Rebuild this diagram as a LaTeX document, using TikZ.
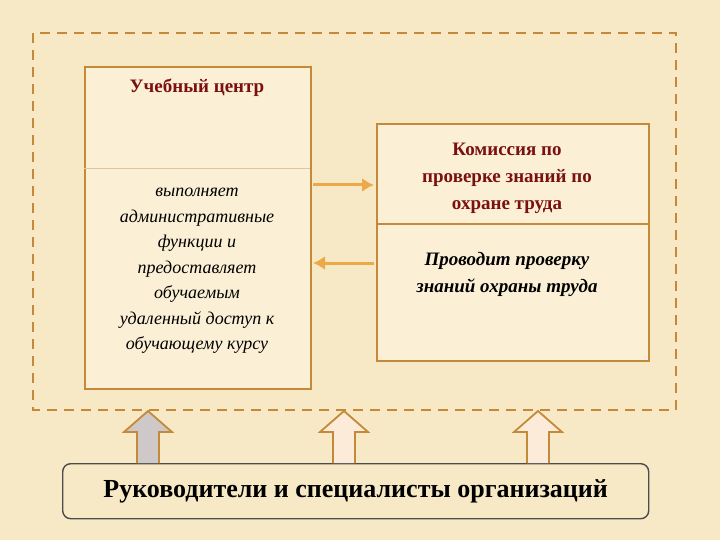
\documentclass[tikz,border=0pt]{standalone}
\usepackage{fontspec}
\setmainfont{Liberation Serif}
\usetikzlibrary{arrows.meta}
\definecolor{bg}{HTML}{F7E9C6}
\definecolor{brn}{HTML}{C48A3A}
\definecolor{org}{HTML}{EDA848}
\definecolor{dred}{HTML}{7A1010}
\definecolor{ivory}{HTML}{FBF0D6}
\definecolor{upa}{HTML}{CFC8C8}
\definecolor{upb}{HTML}{FBEBD8}
\begin{document}
\begin{tikzpicture}[x=1pt,y=-1pt,
  frame/.style={draw=brn,line width=2.4pt},
  link/.style={draw=org,line width=3pt,-{Latex[length=12pt,width=14pt]}},
  uparrow/.style={draw=brn,line width=1.8pt},
  ttl/.style={text=dred,font=\bfseries\fontsize{19}{23}\selectfont,align=center},
  body/.style={font=\itshape\fontsize{18}{25.5}\selectfont,align=center}]
\fill[bg] (0,0) rectangle (720,540);
\useasboundingbox (0,0) rectangle (720,540);
\fill[ivory] (84,66) rectangle (310,388);
\fill[ivory] (376,123) rectangle (648,360);
\draw[brn,line width=1.8pt,dash pattern=on 10pt off 7pt] (33,33) rectangle (676,410);
\node[frame,minimum width=226pt,minimum height=322pt,anchor=north west] (uc) at (84,66) {};
\draw[brn!50,line width=0.6pt] (84,168) -- (310,168);
\node[ttl] (uct) at (197,88) {Учебный центр};
\node[body] (ucb) at (197,271) {выполняет\\административные\\функции и\\предоставляет\\обучаемым\\удаленный доступ к\\обучающему курсу};
\node[frame,minimum width=272pt,minimum height=237pt,anchor=north west] (km) at (376,123) {};
\draw[brn,line width=1.4pt] (376,224) -- (648,224);
\node[ttl,font=\bfseries\fontsize{19}{27}\selectfont] (kmt) at (507,178) {Комиссия по\\проверке знаний по\\охране труда};
\node[body,font=\bfseries\itshape\fontsize{19}{27}\selectfont] (kmb) at (507,274) {Проводит проверку\\знаний охраны труда};
\coordinate (a1) at (313,185); \coordinate (a2) at (374,185);
\coordinate (b1) at (374,263); \coordinate (b2) at (313,263);
\draw[link] (a1) -- (a2);
\draw[link] (b1) -- (b2);
\node[draw=black!70,line width=1.4pt,fill=bg,rounded corners=8pt,minimum width=586pt,minimum height=55pt,anchor=north west,font=\bfseries\fontsize{26}{30}\selectfont] (rk) at (62,463) {Руководители и специалисты организаций};
\foreach \x/\c in {148/upa,344/upb,538/upb}{
  \draw[uparrow,fill=\c] (\x-11,463) -- (\x-11,432) -- (\x-24,432) -- (\x,411) -- (\x+24,432) -- (\x+11,432) -- (\x+11,463);
}
\end{tikzpicture}
\end{document}
